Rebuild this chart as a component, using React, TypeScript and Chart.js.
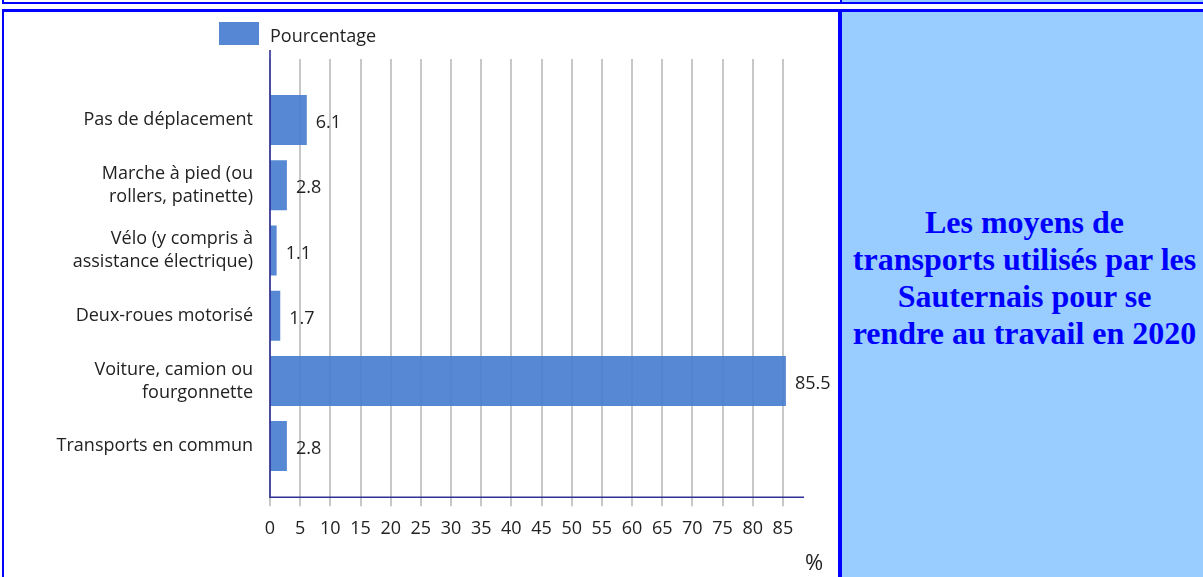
import React, { useEffect, useRef } from 'react';
import { Chart, registerables } from 'chart.js';

Chart.register(...registerables);

// ---- data ----
const categories: string[][] = [
  ['Pas de déplacement'],
  ['Marche à pied (ou', 'rollers, patinette)'],
  ['Vélo (y compris à', 'assistance électrique)'],
  ['Deux-roues motorisé'],
  ['Voiture, camion ou', 'fourgonnette'],
  ['Transports en commun'],
];
const percentages: number[] = [6.1, 2.8, 1.1, 1.7, 85.5, 2.8];
const seriesLabel = 'Pourcentage';
const axisMin = 0;
const axisMax = 88.5;
const axisStep = 5;
const unitLabel = '%';
const titleLines: string[] = [
  'Les moyens de',
  'transports utilisés par les',
  'Sauternais pour se',
  'rendre au travail en 2020',
];

// ---- styles ----
const BLUE = '#0000ff';
const LIGHT = '#99ccff';
const BAR = 'rgba(72,126,207,0.92)';
const BAR_LEGEND = '#5587d4';
const AXIS = '#2f2f96';
const GRID = '#c8c8c8';
const TEXT = '#222222';
const FONT = "'Open Sans', sans-serif";

const CW = 834;
const CH = 565;

const decor = {
  id: 'decor',
  beforeDatasetsDraw(chart: any) {
    const { ctx, chartArea: a, scales } = chart;
    const x = scales.x;
    ctx.save();
    ctx.strokeStyle = GRID;
    ctx.lineWidth = 2;
    for (const t of x.ticks) {
      const px = Math.round(x.getPixelForValue(t.value));
      ctx.beginPath();
      ctx.moveTo(px, a.top - 28.5);
      ctx.lineTo(px, a.bottom + 27.5);
      ctx.stroke();
    }
    ctx.restore();
  },
  afterDatasetsDraw(chart: any) {
    const { ctx, chartArea: a, scales } = chart;
    const x = scales.x;
    const x0 = Math.round(x.getPixelForValue(axisMin));
    ctx.save();
    // axes
    ctx.strokeStyle = AXIS;
    ctx.lineWidth = 1.6;
    ctx.beginPath();
    ctx.moveTo(x0, a.top - 37.5);
    ctx.lineTo(x0, a.bottom + 18.5);
    ctx.lineTo(a.right, a.bottom + 18.5);
    ctx.stroke();
    // value labels
    ctx.fillStyle = TEXT;
    ctx.font = `18px ${FONT}`;
    ctx.textBaseline = 'middle';
    ctx.textAlign = 'left';
    const meta = chart.getDatasetMeta(0);
    meta.data.forEach((bar: any, i: number) => {
      ctx.fillText(percentages[i].toFixed(1), bar.x + 9, bar.y + 3);
    });
    // legend
    ctx.fillStyle = BAR_LEGEND;
    ctx.fillRect(215, 10, 40, 23);
    ctx.fillStyle = TEXT;
    ctx.font = `18px ${FONT}`;
    ctx.fillText(seriesLabel, 266, 24.5);
    // unit
    ctx.font = `22px ${FONT}`;
    ctx.fillText(unitLabel, a.right + 1, a.bottom + 85);
    ctx.restore();
  },
};

export default function App() {
  const ref = useRef<HTMLCanvasElement>(null);

  useEffect(() => {
    const canvas = ref.current;
    if (!canvas) return;
    const chart = new Chart(canvas, {
      type: 'bar',
      data: {
        labels: categories as any,
        datasets: [
          {
            label: seriesLabel,
            data: percentages,
            backgroundColor: BAR,
            borderWidth: 0,
            barPercentage: 0.767,
            categoryPercentage: 1,
          },
        ],
      },
      options: {
        indexAxis: 'y',
        responsive: false,
        maintainAspectRatio: false,
        animation: false,
        layout: { padding: { top: 75.5, right: 34, left: 0, bottom: 0 } },
        plugins: {
          legend: { display: false },
          tooltip: { enabled: false },
          title: { display: false },
        },
        scales: {
          x: {
            type: 'linear',
            min: axisMin,
            max: axisMax,
            grid: { display: false, drawTicks: false },
            border: { display: false },
            ticks: {
              stepSize: axisStep,
              includeBounds: false,
              padding: 39,
              color: TEXT,
              font: { family: FONT, size: 18 },
              maxRotation: 0,
              autoSkip: false,
            },
            afterFit: (s: any) => {
              s.height = 98.3;
            },
          },
          y: {
            type: 'category',
            grid: { display: false, drawTicks: false },
            border: { display: false },
            ticks: {
              padding: 17,
              color: TEXT,
              font: { family: FONT, size: 18, lineHeight: 1.28 },
              autoSkip: false,
            },
            afterFit: (s: any) => {
              s.width = 266;
            },
          },
        },
      },
      plugins: [decor],
    });
    return () => chart.destroy();
  }, []);

  const abs = (s: React.CSSProperties): React.CSSProperties => ({ position: 'absolute', ...s });

  return (
    <div
      style={{
        position: 'fixed',
        left: 0,
        top: 0,
        width: 1203,
        height: 577,
        overflow: 'hidden',
        background: '#ffffff',
      }}
    >
      {/* previous row remnant */}
      <div style={abs({ left: 842, top: 0, width: 361, height: 2, background: LIGHT })} />
      <div style={abs({ left: 840, top: 0, width: 2, height: 2, background: BLUE })} />
      <div style={abs({ left: 2, top: 0, width: 2, height: 4, background: BLUE })} />
      <div style={abs({ left: 2, top: 2, width: 1201, height: 2, background: BLUE })} />
      {/* current row */}
      <div style={abs({ left: 842, top: 12, width: 361, height: 565, background: LIGHT })} />
      <div style={abs({ left: 2, top: 9, width: 1201, height: 3, background: BLUE })} />
      <div style={abs({ left: 2, top: 9, width: 2, height: 568, background: BLUE })} />
      <div style={abs({ left: 838, top: 9, width: 4, height: 568, background: BLUE })} />
      <canvas ref={ref} width={CW} height={CH} style={abs({ left: 4, top: 12, width: CW, height: CH })} />
      <div
        style={abs({
          left: 842,
          top: 12,
          width: 365,
          height: 532,
          display: 'flex',
          alignItems: 'center',
          justifyContent: 'center',
          textAlign: 'center',
          color: BLUE,
          fontFamily: "'Liberation Serif', 'Times New Roman', serif",
          fontWeight: 'bold',
          fontSize: 32,
          lineHeight: '37px',
        })}
      >
        <div>
          {titleLines.map((l, i) => (
            <div key={i} style={{ whiteSpace: 'nowrap' }}>
              {l}
            </div>
          ))}
        </div>
      </div>
    </div>
  );
}
